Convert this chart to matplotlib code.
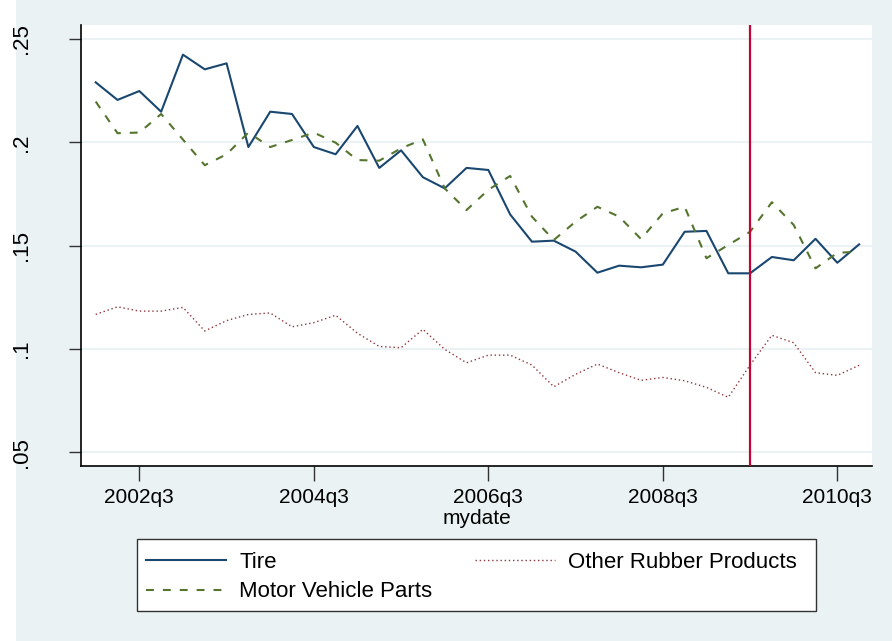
"""
Tire vs. motor vehicle parts vs. other rubber products, quarterly series.
"""
import matplotlib
matplotlib.use("Agg")
import matplotlib.pyplot as plt
from matplotlib.patches import Rectangle

# quarters 2002q1 .. 2010q4, index 0 = 2002q1
quarters = [f"{y}q{q}" for y in range(2002, 2011) for q in range(1, 5)]

tire = [
    0.2290, 0.2205, 0.2248, 0.2148, 0.2424, 0.2353, 0.2382, 0.1977, 0.2148,
    0.2137, 0.1977, 0.1942, 0.2079, 0.1876, 0.1961, 0.1831, 0.1777, 0.1876,
    0.1866, 0.1651, 0.1519, 0.1524, 0.1471, 0.1369, 0.1403, 0.1395, 0.1408,
    0.1567, 0.1571, 0.1366, 0.1366, 0.1445, 0.1429, 0.1533, 0.1417, 0.1506,
]
motor_parts = [
    0.2197, 0.2044, 0.2047, 0.2137, 0.2013, 0.1889, 0.1942, 0.2047, 0.1977,
    0.2011, 0.2047, 0.1998, 0.1914, 0.1911, 0.1971, 0.2014, 0.1777, 0.1672,
    0.1770, 0.1837, 0.1640, 0.1527, 0.1616, 0.1688, 0.1640, 0.1532, 0.1656,
    0.1688, 0.1439, 0.1503, 0.1567, 0.1710, 0.1600, 0.1390, 0.1465, 0.1471,
]
other_rubber = [
    0.1167, 0.1204, 0.1183, 0.1183, 0.1201, 0.1087, 0.1137, 0.1167, 0.1174,
    0.1107, 0.1127, 0.1163, 0.1076, 0.1012, 0.1006, 0.1095, 0.0998, 0.0933,
    0.0970, 0.0970, 0.0922, 0.0817, 0.0877, 0.0927, 0.0885, 0.0848, 0.0862,
    0.0846, 0.0814, 0.0766, 0.0922, 0.1066, 0.1030, 0.0885, 0.0872, 0.0921,
]
xtick_labels = ["2002q3", "2004q3", "2006q3", "2008q3", "2010q3"]
ytick_values = [0.05, 0.1, 0.15, 0.2, 0.25]
ytick_labels = [".05", ".1", ".15", ".2", ".25"]
event_quarter = "2009q3"

BG = "#eaf2f3"
W, H = 892, 641
plt.rcParams["font.family"] = ["Liberation Sans", "DejaVu Sans"]

x = list(range(len(quarters)))

fig = plt.figure(figsize=(W / 100, H / 100), dpi=100, facecolor="white")
fig.patches.append(Rectangle((16 / W, 0), 1, 1, transform=fig.transFigure,
                             facecolor=BG, edgecolor="none", zorder=-10))
ax = fig.add_axes([81 / W, 1 - 465.7 / H, (872 - 81) / W, (465.7 - 24.7) / H])
ax.set_facecolor("white")

ax.plot(x, tire, color="#1a476f", lw=1.5, label="Tire")
ax.plot(x, other_rubber, color="#90353b", lw=1.0, linestyle=(0, (1, 2)),
        label="Other Rubber Products")
ax.plot(x, motor_parts, color="#55752f", lw=1.5, linestyle=(0, (3.8, 4.3)),
        label="Motor Vehicle Parts")
ax.axvline(quarters.index(event_quarter), color="#c10534", lw=1.6, zorder=5)

ax.set_xlim(-0.674, 35.59)
ax.set_ylim(0.0435, 0.2569)
ax.set_xticks([quarters.index(q) for q in xtick_labels])
ax.set_xticklabels(xtick_labels, fontsize=15)
ax.set_yticks(ytick_values)
ax.set_yticklabels(ytick_labels, fontsize=16, rotation=90, va="center",
                   ha="right")
ax.tick_params(axis="y", length=9, width=1, pad=26, color="#333333")
ax.tick_params(axis="x", length=11, width=1, pad=5, color="#333333")
ax.set_xlabel("mydate", fontsize=15, labelpad=1.5)
ax.yaxis.grid(True, color=BG, lw=1.5)
ax.set_axisbelow(True)
for side in ("top", "right"):
    ax.spines[side].set_visible(False)
for side in ("left", "bottom"):
    ax.spines[side].set_linewidth(1.2)

# legend frame drawn by hand, entries placed inside it
fig.patches.append(Rectangle((137 / W, 1 - 611 / H), (816 - 137) / W,
                             (611 - 539) / H, transform=fig.transFigure,
                             facecolor="white", edgecolor="#333333", lw=1.0,
                             zorder=1))
h, l = ax.get_legend_handles_labels()
order = [0, 2, 1]
leg = fig.legend([h[i] for i in order], [l[i] for i in order],
                 loc="upper left", ncol=2, frameon=False,
                 bbox_to_anchor=(146 / W, 1 - 551.5 / H),
                 borderaxespad=0, borderpad=0, fontsize=16,
                 handlelength=3.6, handletextpad=0.6, labelspacing=0.4,
                 columnspacing=1.9)
leg.set_zorder(2)

plt.savefig("out.png", dpi=100, facecolor=fig.get_facecolor())
plt.close()
